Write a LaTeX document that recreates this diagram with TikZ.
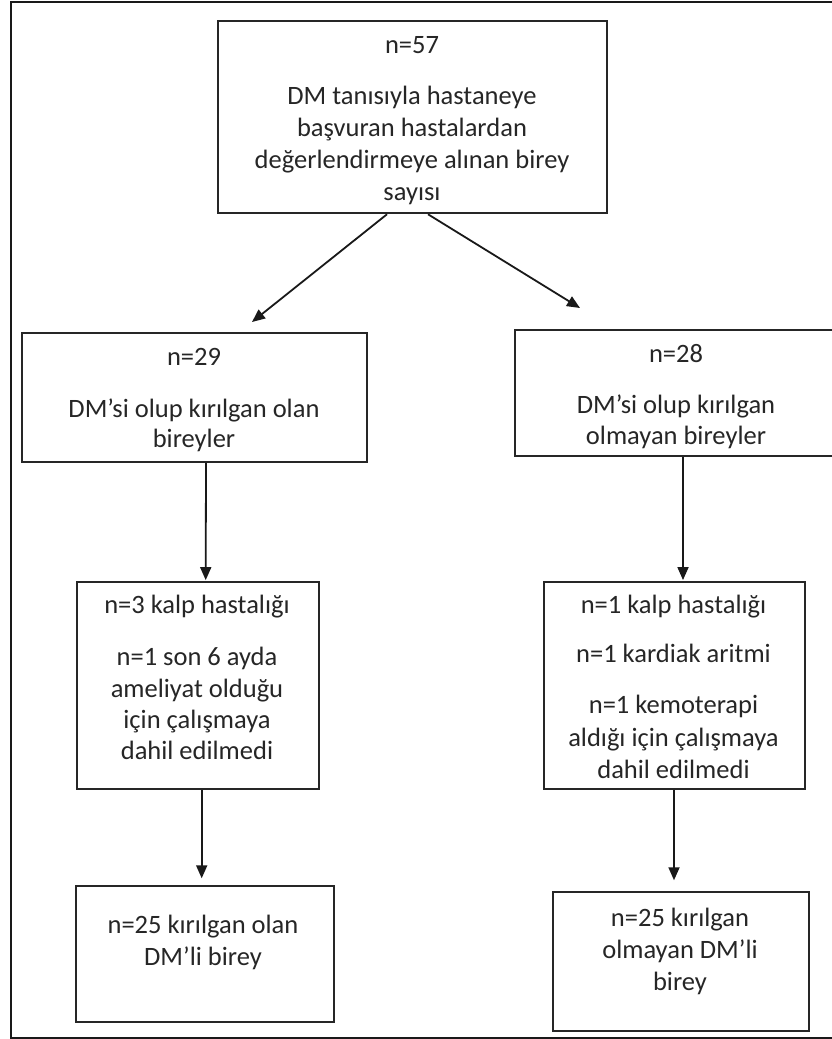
\documentclass[tikz,border=0pt]{standalone}
\usepackage{fontspec}
\setmainfont{Carlito}
\usetikzlibrary{arrows.meta}
\begin{document}
\begin{tikzpicture}[x=1pt,y=-1pt,
  box/.style={draw=black!85, line width=1.9pt, rectangle, inner sep=0pt},
  txt/.style={anchor=base, inner sep=0pt, text=black!85, font=\fontsize{26.5}{32}\selectfont},
  arr/.style={draw=black!90, line width=1.8pt, -{Triangle[length=13pt,width=11pt]}},
  frame/.style={draw=black!90, line width=2pt}]
\useasboundingbox (0,0) rectangle (832,1039);
\fill[white] (0,0) rectangle (832,1039);
\draw[frame] (11,2) rectangle (850,1038);

% boxes
\node[box, minimum width=389.3pt, minimum height=192.6pt] (top) at (412.4,117) {};
\node[box, minimum width=345.3pt, minimum height=129pt] (l2) at (194.3,397.5) {};
\node[box, minimum width=322pt, minimum height=126pt] (r2) at (676,393) {};
\node[box, minimum width=241.4pt, minimum height=207.3pt] (l3) at (198,685.7) {};
\node[box, minimum width=261pt, minimum height=207pt] (r3) at (674.5,685.5) {};
\node[box, minimum width=258.3pt, minimum height=136.3pt] (l4) at (204.9,953.9) {};
\node[box, minimum width=256pt, minimum height=139pt] (r4) at (680.7,961.2) {};

% texts
\node[txt] (t1) at (412,53) {n=57};
\node[txt] (t2) at (412,104) {DM tanısıyla hastaneye};
\node[txt] (t3) at (412,136) {başvuran hastalardan};
\node[txt] (t4) at (412,168) {değerlendirmeye alınan birey};
\node[txt] (t5) at (412,200) {sayısı};

\node[txt] (l2a) at (194,365) {n=29};
\node[txt] (l2b) at (194,417) {DM’si olup kırılgan olan};
\node[txt] (l2c) at (194,447) {bireyler};

\node[txt] (r2a) at (676,362) {n=28};
\node[txt] (r2b) at (676,413) {DM’si olup kırılgan};
\node[txt] (r2c) at (676,444) {olmayan bireyler};

\node[txt] (l3a) at (197,613) {n=3 kalp hastalığı};
\node[txt] (l3b) at (197,665) {n=1 son 6 ayda};
\node[txt] (l3c) at (197,697) {ameliyat olduğu};
\node[txt] (l3d) at (197,728) {için çalışmaya};
\node[txt] (l3e) at (197,759) {dahil edilmedi};

\node[txt] (r3a) at (673.5,613) {n=1 kalp hastalığı};
\node[txt] (r3b) at (673.5,662) {n=1 kardiak aritmi};
\node[txt] (r3c) at (673.5,713) {n=1 kemoterapi};
\node[txt] (r3d) at (673.5,746) {aldığı için çalışmaya};
\node[txt] (r3e) at (673.5,778) {dahil edilmedi};

\node[txt] (l4a) at (203,933) {n=25 kırılgan olan};
\node[txt] (l4b) at (203,965) {DM’li birey};

\node[txt] (r4a) at (680,926) {n=25 kırılgan};
\node[txt] (r4b) at (680,958) {olmayan DM’li};
\node[txt] (r4c) at (680,990) {birey};

% arrow end points
\coordinate (aL) at (252,322);
\coordinate (aR) at (580,308);

% connectors
\draw[arr] ([xshift=-25.4pt]top.south) -- (aL);
\draw[arr] ([xshift=15.6pt]top.south) -- (aR);
\draw[arr] ([xshift=11.7pt]l2.south) -- ([xshift=7.7pt,yshift=1pt]l3.north);
\draw[arr] ([xshift=7pt]r2.south) -- ([xshift=8.5pt,yshift=1pt]r3.north);
\draw[arr] ([xshift=3.7pt]l3.south) -- ([xshift=-3.2pt,yshift=6.5pt]l4.north);
\draw[arr] ([xshift=-0.5pt]r3.south) -- ([xshift=-6.7pt,yshift=10.5pt]r4.north);
\end{tikzpicture}
\end{document}
